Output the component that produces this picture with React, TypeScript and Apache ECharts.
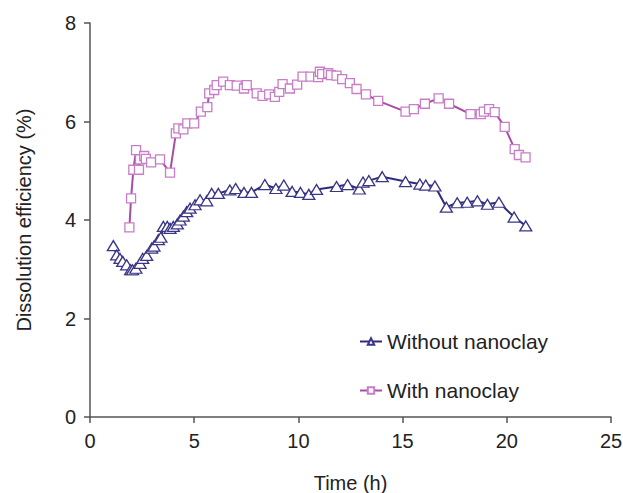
import React, { useEffect, useRef } from "react";
import * as echarts from "echarts";

const withoutX = [1.12, 1.28, 1.44, 1.57, 1.76, 1.95, 2.04, 2.2, 2.4, 2.53, 2.72, 2.96, 3.07, 3.28, 3.4, 3.52, 3.71, 3.84, 4.0, 4.19, 4.32, 4.48, 4.64, 4.8, 5.04, 5.28, 5.6, 5.84, 6.16, 6.71, 6.99, 7.39, 7.75, 8.39, 8.92, 9.3, 9.7, 10.1, 10.5, 10.87, 11.83, 12.36, 12.92, 13.1, 13.38, 14.02, 15.14, 15.83, 16.11, 16.55, 17.1, 17.62, 18.1, 18.59, 19.07, 19.62, 20.35, 20.91];
const withoutY = [3.48, 3.29, 3.22, 3.16, 3.09, 2.99, 2.99, 3.02, 3.12, 3.22, 3.28, 3.43, 3.47, 3.6, 3.65, 3.87, 3.87, 3.83, 3.87, 3.92, 4.0, 4.08, 4.17, 4.24, 4.31, 4.41, 4.39, 4.54, 4.54, 4.61, 4.64, 4.56, 4.56, 4.72, 4.64, 4.71, 4.58, 4.56, 4.52, 4.62, 4.68, 4.72, 4.63, 4.77, 4.8, 4.88, 4.78, 4.73, 4.71, 4.69, 4.26, 4.35, 4.36, 4.39, 4.32, 4.36, 4.06, 3.88];

const withX = [1.89, 1.97, 2.08, 2.21, 2.35, 2.4, 2.6, 2.68, 2.93, 3.36, 3.84, 4.12, 4.24, 4.48, 4.67, 5.0, 5.32, 5.63, 5.72, 5.96, 6.08, 6.39, 6.71, 7.04, 7.39, 7.52, 8.0, 8.28, 8.6, 8.87, 9.08, 9.24, 9.59, 9.94, 10.2, 10.58, 10.95, 11.03, 11.14, 11.43, 11.56, 11.83, 12.1, 12.47, 12.79, 13.24, 13.83, 15.14, 15.54, 16.07, 16.73, 17.23, 18.26, 18.75, 18.9, 19.15, 19.42, 19.9, 20.38, 20.58, 20.9];
const withY = [3.85, 4.44, 5.02, 5.42, 5.02, 5.23, 5.3, 5.24, 5.17, 5.23, 4.96, 5.76, 5.86, 5.84, 5.96, 5.96, 6.2, 6.29, 6.57, 6.64, 6.74, 6.81, 6.74, 6.73, 6.67, 6.74, 6.57, 6.52, 6.55, 6.5, 6.6, 6.76, 6.67, 6.75, 6.91, 6.91, 6.9, 7.01, 6.96, 6.98, 6.94, 6.93, 6.86, 6.78, 6.66, 6.55, 6.42, 6.2, 6.25, 6.36, 6.47, 6.36, 6.15, 6.15, 6.2, 6.25, 6.19, 5.89, 5.44, 5.32, 5.27];

const seriesNames = ["Without nanoclay", "With nanoclay"];
const xTitle = "Time (h)";
const yTitle = "Dissolution efficiency (%)";

const FONT = "Liberation Sans, Arial, sans-serif";
const TEXT = "#222";
const AXIS = "#555";

export default function App() {
  const ref = useRef<HTMLDivElement>(null);
  useEffect(() => {
    if (!ref.current) return;
    const chart = echarts.init(ref.current, null, { renderer: "svg" });
    const zip = (xs: number[], ys: number[]) => xs.map((x, i) => [x, ys[i]]);
    chart.setOption({
      animation: false,
      textStyle: { fontFamily: FONT },
      grid: { left: 90, right: 12, top: 23, bottom: 76, outerBoundsMode: "none", containLabel: false },
      legend: {
        orient: "vertical",
        left: 354,
        top: 326,
        itemGap: 28,
        itemWidth: 22,
        itemHeight: 8,
        textStyle: { fontSize: 21, color: TEXT, fontFamily: FONT },
        data: [seriesNames[0], seriesNames[1]],
      },
      xAxis: {
        type: "value",
        min: 0,
        max: 25,
        interval: 5,
        name: xTitle,
        nameLocation: "middle",
        nameGap: 56,
        nameTextStyle: { fontSize: 20, color: TEXT, fontFamily: FONT },
        axisLine: { lineStyle: { color: AXIS, width: 1.5 } },
        axisTick: { show: true, length: 6, lineStyle: { color: AXIS, width: 1.5 } },
        axisLabel: { fontSize: 20, color: TEXT, margin: 14, fontFamily: FONT },
        splitLine: { show: false },
      },
      yAxis: {
        type: "value",
        min: 0,
        max: 8,
        interval: 2,
        name: yTitle,
        nameLocation: "middle",
        nameGap: 56,
        nameTextStyle: { fontSize: 20, color: TEXT, fontFamily: FONT },
        axisLine: { show: true, lineStyle: { color: AXIS, width: 1.5 } },
        axisTick: { show: true, length: 6, lineStyle: { color: AXIS, width: 1.5 } },
        axisLabel: { fontSize: 20, color: TEXT, margin: 14, fontFamily: FONT },
        splitLine: { show: false },
      },
      series: [
        {
          name: seriesNames[0],
          type: "line",
          data: zip(withoutX, withoutY),
          symbol: "triangle",
          symbolSize: [12, 10],
          showAllSymbol: true,
          lineStyle: { color: "#2f2b7c", width: 2 },
          itemStyle: { color: "#ffffff", borderColor: "#3a3585", borderWidth: 1.3 },
          z: 3,
        },
        {
          name: seriesNames[1],
          type: "line",
          data: zip(withX, withY),
          symbol: "rect",
          symbolSize: 9,
          showAllSymbol: true,
          lineStyle: { color: "#a84ca6", width: 2 },
          itemStyle: { color: "#ffffff", borderColor: "#c97cc7", borderWidth: 1.3 },
          z: 2,
        },
      ],
    });
    return () => chart.dispose();
  }, []);
  return <div ref={ref} style={{ position: "absolute", left: 0, top: 0, width: 623, height: 493 }} />;
}
